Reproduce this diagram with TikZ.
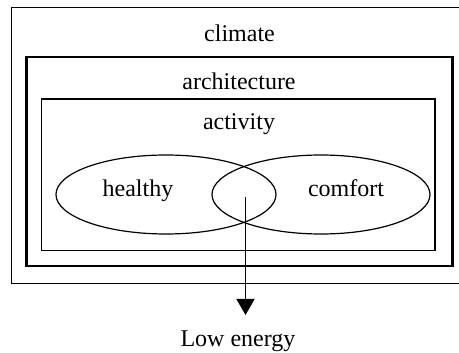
\documentclass[tikz,border=0pt]{standalone}
\usepackage{fontspec}
\setmainfont{Liberation Serif}
\usetikzlibrary{arrows.meta}
\tikzset{word/.style={anchor=base,inner sep=0pt},
	setline/.style={line width=1.2pt}}
\begin{document}
\begin{tikzpicture}[x=1pt,y=-1pt,font=\fontsize{24}{28}\selectfont]
\useasboundingbox (0,0) rectangle (459,353);
\clip (0,0) rectangle (459,353);
% nested boxes
\draw[line width=1pt] (11.5,8) rectangle (470,284);
\draw[line width=2.2pt] (26.5,57) rectangle (452.5,266);
\draw[line width=1.4pt] (41.5,99) rectangle (435,250.5);
	\node[word] (climate) at (239.5,42) {climate};
	\node[word] (arch) at (239,90) {architecture};
	\node[word] (activity) at (239,130) {activity};

% the two sets
\draw[setline] (166,194.5) ellipse (110 and 39.5);
\draw[setline] (321,194.5) ellipse (109 and 39.5);
	\node[word] (healthy) at (138,197) {healthy};
	\node[word] (comfort) at (346,197) {comfort};

\coordinate (overlap) at (245.5,197);
\coordinate (goal) at (245.5,315);
\draw[-{Triangle[length=16pt,width=18pt]},line width=1.4pt] (overlap) -- (goal);
	\node[word] (low) at (238,347) {Low energy};
\end{tikzpicture}
\end{document}
